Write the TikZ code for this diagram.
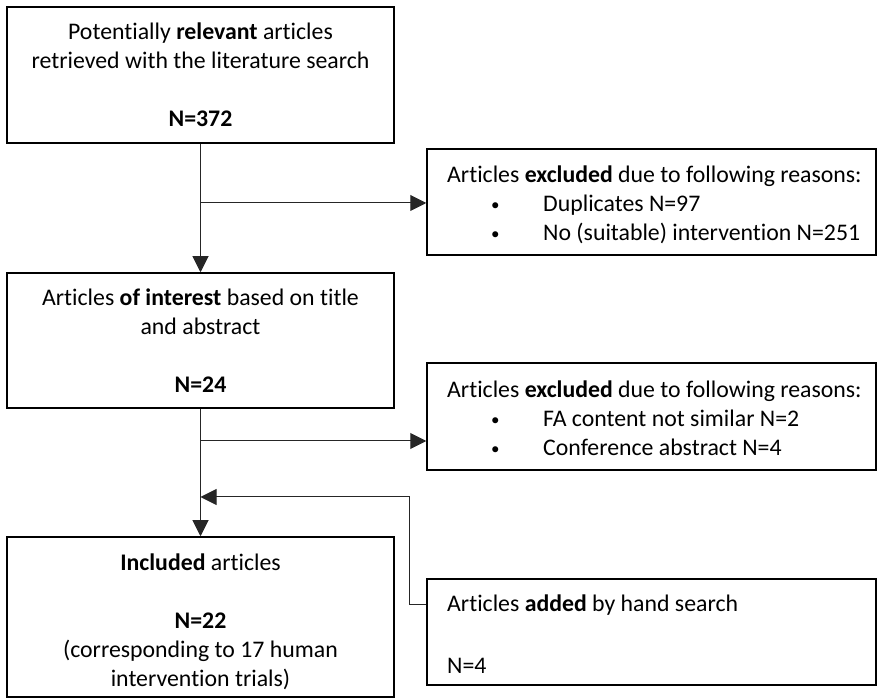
\documentclass[tikz,border=0pt]{standalone}
\usepackage{fontspec}
\setmainfont{Carlito}[Ligatures=NoCommon]
\usetikzlibrary{arrows.meta,calc}
\newcommand{\blt}{\hspace*{44pt}\makebox[52pt][l]{\fontsize{17}{29}\selectfont\raisebox{1pt}{•}}}
\tikzset{
  box/.style={draw=black, line width=1.5pt, fill=white, inner sep=0pt},
  txt/.style={inner sep=0pt, font=\fontsize{23.8}{29}\selectfont},
  conn/.style={draw=black!85, line width=1pt, -{Triangle[length=16pt,width=16pt]}}
}
\begin{document}
\begin{tikzpicture}[x=1pt,y=-1pt]
\useasboundingbox (0,0) rectangle (879,700);
% left column boxes
\node[box, minimum width=387pt, minimum height=136pt] (b1) at (200.5,75) {};
\node[box, minimum width=387pt, minimum height=135pt] (b2) at (200.5,340.5) {};
\node[box, minimum width=387pt, minimum height=160pt] (b6) at (200.5,617) {};
% right column boxes
\node[box, minimum width=449pt, minimum height=106pt] (b3) at (651.5,202) {};
\node[box, minimum width=449pt, minimum height=107pt] (b4) at (651.5,416.5) {};
\node[box, minimum width=449pt, minimum height=106pt] (b5) at (651.5,632) {};
% texts
\node[txt, align=center] (t1) at (200.5,75) {Potentially \textbf{relevant} articles\\retrieved with the literature search\\[29pt]\textbf{N=372}};
\node[txt, align=center] (t2) at (200.5,341) {Articles \textbf{of interest} based on title\\and abstract\\[29pt]\textbf{N=24}};
\node[txt, align=center] (t6) at (200.5,622) {\textbf{Included} articles\\[29pt]\textbf{N=22}\\(corresponding to 17 human\\intervention trials)};
\node[txt, align=left, anchor=west] (t3) at (447,205) {Articles \textbf{excluded} due to following reasons:\\\blt Duplicates N=97\\\blt No (suitable) intervention N=251};
\node[txt, align=left, anchor=west] (t4) at (447,418) {Articles \textbf{excluded} due to following reasons:\\\blt FA content not similar N=2\\\blt Conference abstract N=4};
\node[txt, align=left, anchor=west] (t5) at (447,634) {Articles \textbf{added} by hand search\\[33pt]N=4};
% connectors
\coordinate (j1) at (200.5,203);
\coordinate (j2) at (200.5,441);
\coordinate (j3) at (200.5,497);
\coordinate (e5) at ($(b5.north west)+(0,26)$);
\draw[conn] (b1.south) -- (b2.north);
\draw[conn] (j1) -- (j1 -| b3.west);
\draw[conn] (b2.south) -- (b6.north);
\draw[conn] (j2) -- (j2 -| b4.west);
\draw[conn] (e5) -- ++(-17,0) |- (j3);
\end{tikzpicture}
\end{document}
